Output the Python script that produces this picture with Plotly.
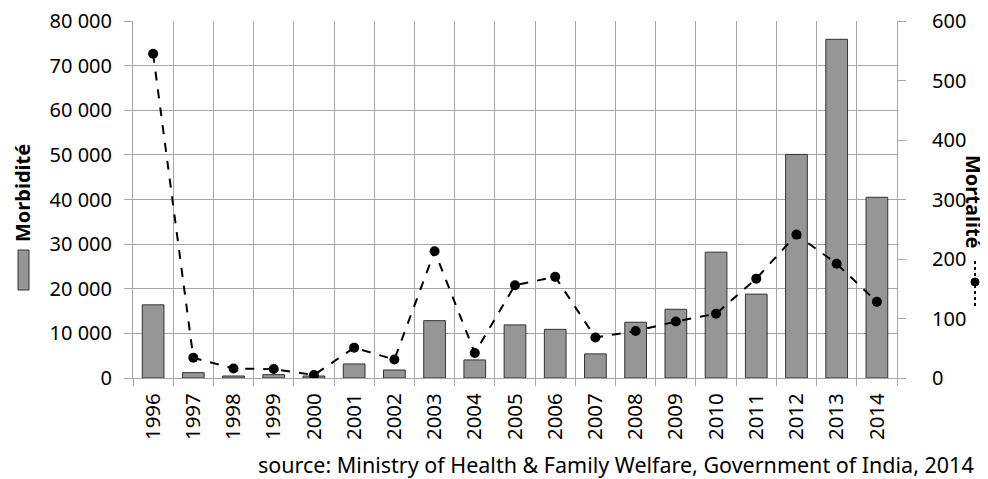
import plotly.graph_objects as go

years = [str(y) for y in range(1996, 2015)]
morbidite = [16400, 1200, 450, 750, 450, 3150, 1800, 12850, 4050, 11900, 10900,
             5400, 12500, 15400, 28200, 18800, 50100, 75900, 40500]
mortalite = [545, 34, 16, 15, 5, 51, 31, 213, 42, 156, 170, 68, 79, 95, 108,
             167, 241, 192, 128]

left_ticks = list(range(0, 80001, 10000))
right_ticks = list(range(0, 601, 100))

FONT = "Noto Sans"
TXT = "#000000"
GRID = "#a6a6a6"

# plot area in page pixels: x 133..897, y 21..378 ; page body has 8px margin
PW, PH = 764, 357
X0, Y0 = 133, 378


def px(x):
    return (x - X0) / PW


def py(y):
    return (Y0 - y) / PH


fig = go.Figure()
fig.add_trace(go.Bar(
    x=years, y=morbidite, name="Morbidité",
    marker=dict(color="#969696", line=dict(color="#333333", width=1)),
    width=0.54,
))
fig.add_trace(go.Scatter(
    x=years, y=mortalite, name="Mortalité", yaxis="y2",
    mode="lines+markers",
    line=dict(color="black", width=2, dash="dash"),
    marker=dict(color="black", size=10),
))

fig.update_layout(
    width=980, height=471,
    margin=dict(l=125, r=91, t=13, b=101, autoexpand=False),
    paper_bgcolor="white", plot_bgcolor="white",
    separators=", ",
    showlegend=False,
    font=dict(family=FONT, size=20, color=TXT),
    xaxis=dict(
        type="category", tickson="boundaries", ticks="outside", ticklen=7,
        tickcolor=GRID, showgrid=True, gridcolor=GRID, gridwidth=1,
        tickangle=-90, showline=True, linecolor=GRID, linewidth=1,
        tickfont=dict(size=20.5), range=[-0.5, 18.5], automargin=False,
        ticklabelstandoff=6,
    ),
    yaxis=dict(
        range=[0, 80000], tickvals=left_ticks, tickformat=",d",
        ticks="outside", ticklen=8, tickcolor=GRID, ticklabelstandoff=8,
        showgrid=True, gridcolor=GRID, gridwidth=1, ticklabeloverflow="allow",
        showline=True, linecolor=GRID, zeroline=False, automargin=False,
    ),
    yaxis2=dict(
        range=[0, 600], tickvals=right_ticks, overlaying="y", side="right",
        ticks="outside", ticklen=8, tickcolor=GRID, ticklabelstandoff=22,
        showgrid=False, showline=True, linecolor=GRID, zeroline=False,
        automargin=False, ticklabeloverflow="allow",
    ),
)

# Axis titles with legend keys
fig.add_annotation(
    xref="paper", yref="paper", x=px(23), y=py(193),
    text="<b>Morbidité</b>", textangle=-90, showarrow=False,
    font=dict(size=20, color=TXT), xanchor="center", yanchor="middle",
)
fig.add_shape(
    type="rect", xref="paper", yref="paper",
    x0=px(18), x1=px(29), y0=py(290), y1=py(250),
    fillcolor="#969696", line=dict(color="#333333", width=1),
)
fig.add_annotation(
    xref="paper", yref="paper", x=px(974), y=py(202),
    text="<b>Mortalité</b>", textangle=90, showarrow=False,
    font=dict(size=20, color=TXT), xanchor="center", yanchor="middle",
)
fig.add_shape(
    type="line", xref="paper", yref="paper",
    x0=px(975), x1=px(975), y0=py(306), y1=py(258),
    line=dict(color="black", width=2, dash="dot"),
)
fig.add_shape(
    type="circle", xref="paper", yref="paper",
    x0=px(971), x1=px(979), y0=py(286), y1=py(278),
    fillcolor="black", line=dict(color="black", width=1),
)

fig.add_annotation(
    xref="paper", yref="paper", x=px(976), y=py(464),
    text="source: Ministry of Health &amp; Family Welfare, Government of India, 2014",
    showarrow=False, xanchor="right", yanchor="middle",
    font=dict(size=21.5, color=TXT),
)

fig.write_html("out.html")
